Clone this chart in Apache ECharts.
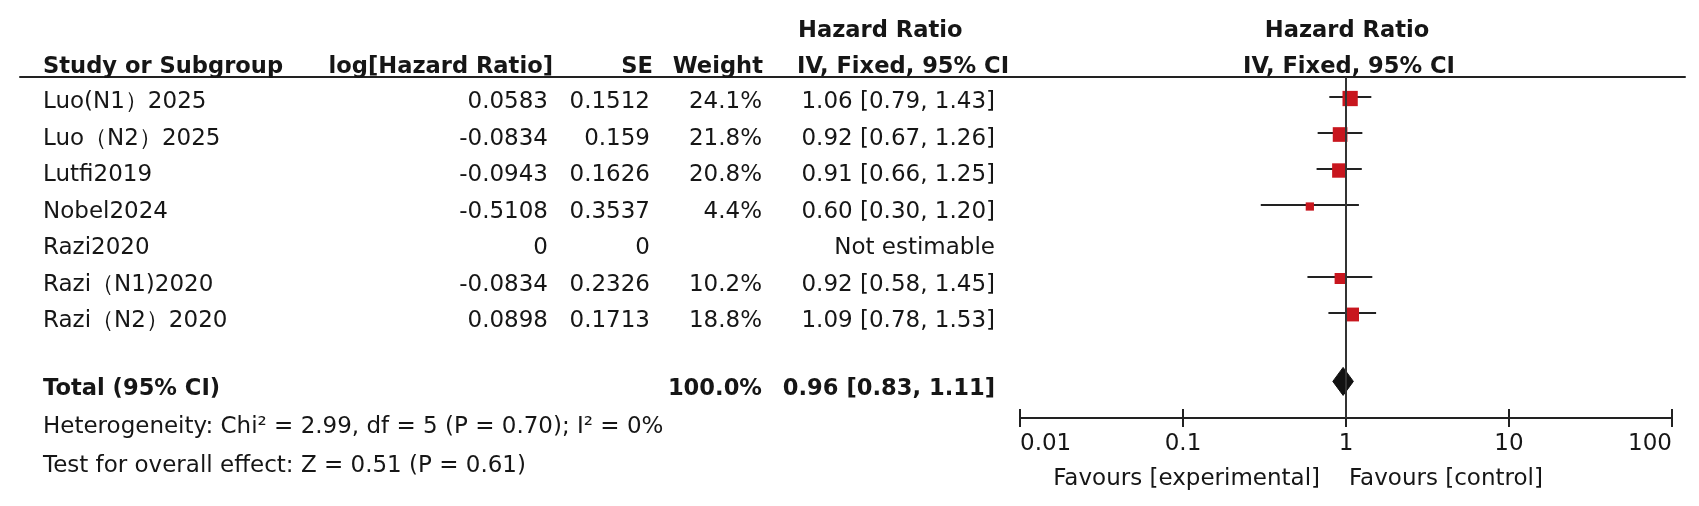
<!DOCTYPE html>
<html>
<head>
<meta charset="utf-8">
<script src="https://cdn.jsdelivr.net/npm/echarts@6/dist/echarts.min.js"></script>
<style>
html,body{margin:0;padding:0;background:#fff;}
#chart{width:1699px;height:506px;}
</style>
</head>
<body>
<div id="chart"></div>
<script>
// ---------------- DATA ----------------
const studies = ['Luo(N1）2025', 'Luo（N2）2025', 'Lutfi2019', 'Nobel2024', 'Razi2020', 'Razi（N1)2020', 'Razi（N2）2020'];
const logHR = ['0.0583', '-0.0834', '-0.0943', '-0.5108', '0', '-0.0834', '0.0898'];
const seValues = ['0.1512', '0.159', '0.1626', '0.3537', '0', '0.2326', '0.1713'];
const weights = [24.1, 21.8, 20.8, 4.4, null, 10.2, 18.8];
const hrValues = [1.06, 0.92, 0.91, 0.60, null, 0.92, 1.09];
const ciLow = [0.79, 0.67, 0.66, 0.30, null, 0.58, 0.78];
const ciHigh = [1.43, 1.26, 1.25, 1.20, null, 1.45, 1.53];
const totalHR = [0.96];
const totalLow = [0.83];
const totalHigh = [1.11];
const totalWeight = ['100.0%'];
const tickValues = [0.01, 0.1, 1, 10, 100];
const tickLabels = ['0.01', '0.1', '1', '10', '100'];
const hetText = ['Heterogeneity: Chi² = 2.99, df = 5 (P = 0.70); I² = 0%'];
const effectText = ['Test for overall effect: Z = 0.51 (P = 0.61)'];
const favourLabels = ['Favours [experimental]', 'Favours [control]'];

// ---------------- LAYOUT / STYLE ----------------
const FONT = 'DejaVu Sans';
const TXT = '#161616';
const FS = 23;
const FSB = 22.6;
const gridTop = 77, gridHeight = 341;
// forest rows
const yMin = -0.556, yMax = 8.917;
// table rows (text): row i centred at 102.5 + 36.5*i
const tMin = (77 - 102.5) / 36.5, tMax = (418 - 102.5) / 36.5;
const colStudy = 43, colLog = 548, colSE = 650, colW = 762, colHR = 995;
const hdrLog = 553, hdrSE = 653, hdrW = 763, hdrHR = 797;
const rightHdrX = 1347;
const rowTotalText = 7.86, rowHet = 8.89, rowTest = 9.97, rowH1 = -1.95, rowH2 = -0.97;
const rowTotalMark = 7.9;

const fmtCI = (h, l, u) => h.toFixed(2) + ' [' + l.toFixed(2) + ', ' + u.toFixed(2) + ']';

const cells = [];
function cell(x, row, text, align, bold) { cells.push({ x, row, text, align, bold }); }

studies.forEach((s, i) => {
  cell(colStudy, i, s, 'left', false);
  cell(colLog, i, logHR[i], 'right', false);
  cell(colSE, i, seValues[i], 'right', false);
  if (weights[i] != null) cell(colW, i, weights[i].toFixed(1) + '%', 'right', false);
  cell(colHR, i, hrValues[i] != null ? fmtCI(hrValues[i], ciLow[i], ciHigh[i]) : 'Not estimable', 'right', false);
});
cell(colStudy, rowHet, hetText[0], 'left', false);
cell(colStudy, rowTest, effectText[0], 'left', false);
cell(hdrHR + 1, rowH1, 'Hazard Ratio', 'left', true);
cell(colStudy, rowH2, 'Study or Subgroup', 'left', true);
cell(hdrHR, rowH2, 'IV, Fixed, 95% CI', 'left', true);
cell(colStudy, rowTotalText, 'Total (95% CI)', 'left', true);
cell(hdrLog, rowH2, 'log[Hazard Ratio]', 'right', true);
cell(hdrSE, rowH2, 'SE', 'right', true);
cell(hdrW, rowH2, 'Weight', 'right', true);
cell(colW, rowTotalText, totalWeight[0], 'right', true);
cell(colHR, rowTotalText, fmtCI(totalHR[0], totalLow[0], totalHigh[0]), 'right', true);
cell(rightHdrX, rowH1, 'Hazard Ratio', 'center', true);
cell(rightHdrX + 2, rowH2, 'IV, Fixed, 95% CI', 'center', true);

const studyData = [];
studies.forEach((s, i) => {
  if (hrValues[i] != null) studyData.push([hrValues[i], ciLow[i], ciHigh[i], i, weights[i]]);
});

const chart = echarts.init(document.getElementById('chart'), null, { renderer: 'canvas' });
chart.setOption({
  animation: false,
  backgroundColor: '#fff',
  grid: [
    { left: 20, right: 14, top: gridTop, height: gridHeight, containLabel: false, outerBoundsMode: 'none' },
    { left: 1020, right: 27, top: gridTop, height: gridHeight, containLabel: false, outerBoundsMode: 'none' }
  ],
  xAxis: [
    { gridIndex: 0, type: 'value', min: 20, max: 1685, position: 'top',
      axisLine: { show: true, onZero: false, lineStyle: { color: '#222', width: 2 } },
      axisTick: { show: false }, axisLabel: { show: false }, splitLine: { show: false } },
    { gridIndex: 1, type: 'log', logBase: 10, min: 0.01, max: 100, position: 'bottom',
      axisLine: { show: true, onZero: false, lineStyle: { color: '#222', width: 2 } },
      axisTick: { show: true, inside: true, length: 9, lineStyle: { color: '#222', width: 2 } },
      axisLabel: { show: false }, splitLine: { show: false }, minorTick: { show: false } },
    { gridIndex: 1, type: 'log', logBase: 10, min: 0.01, max: 100, position: 'bottom',
      axisLine: { show: true, onZero: false, lineStyle: { color: '#222', width: 2 } },
      axisTick: { show: true, inside: false, length: 9, lineStyle: { color: '#222', width: 2 } },
      axisLabel: { show: true, margin: 15, fontFamily: FONT, fontSize: FS, color: TXT,
        alignMinLabel: 'left', alignMaxLabel: 'right', hideOverlap: false,
        formatter: v => { const k = tickValues.findIndex(t => Math.abs(Math.log10(t) - Math.log10(v)) < 1e-6); return k >= 0 ? tickLabels[k] : ''; } },
      splitLine: { show: false }, minorTick: { show: false } }
  ],
  yAxis: [
    { gridIndex: 0, type: 'value', inverse: true, min: tMin, max: tMax, show: false },
    { gridIndex: 1, type: 'value', inverse: true, min: yMin, max: yMax, show: false }
  ],
  graphic: [
    { type: 'text', x: 1320, y: 479, silent: true,
      style: { text: favourLabels[0], fontFamily: FONT, fontSize: FS, fill: TXT, align: 'right', verticalAlign: 'middle' } },
    { type: 'text', x: 1349, y: 479, silent: true,
      style: { text: favourLabels[1], fontFamily: FONT, fontSize: FS, fill: TXT, align: 'left', verticalAlign: 'middle' } }
  ],
  series: [
    {
      type: 'custom', xAxisIndex: 0, yAxisIndex: 0, silent: true, clip: false,
      data: cells.map(c => [c.x, c.row]),
      renderItem: (params, api) => {
        const c = cells[params.dataIndex];
        const p = api.coord([api.value(0), api.value(1)]);
        return { type: 'text', x: p[0], y: p[1],
          style: { text: c.text, fill: TXT, align: c.align, verticalAlign: 'middle',
            font: (c.bold ? 'bold ' + FSB : FS) + 'px "' + FONT + '"' } };
      }
    },
    {
      type: 'custom', xAxisIndex: 1, yAxisIndex: 1, z: 2, silent: true,
      data: [[totalHR[0], totalLow[0], totalHigh[0], rowTotalMark]],
      encode: { x: [0, 1, 2], y: 3 },
      renderItem: (params, api) => {
        const c = api.coord([api.value(0), api.value(3)]);
        const l = api.coord([api.value(1), api.value(3)]);
        const r = api.coord([api.value(2), api.value(3)]);
        const hh = 14;
        return { type: 'polygon', shape: { points: [[l[0], c[1]], [c[0], c[1] - hh], [r[0], c[1]], [c[0], c[1] + hh]] },
          style: { fill: '#111', stroke: '#111', lineWidth: 1 } };
      },
      markLine: { silent: true, symbol: 'none', label: { show: false },
        lineStyle: { color: '#333', width: 2, type: 'solid' }, data: [{ xAxis: 1 }] }
    },
    {
      type: 'custom', xAxisIndex: 1, yAxisIndex: 1, z: 3, silent: true,
      data: studyData,
      encode: { x: [0, 1, 2], y: 3 },
      renderItem: (params, api) => {
        const row = api.value(3);
        const p = api.coord([api.value(0), row]);
        const pl = api.coord([api.value(1), row]);
        const ph = api.coord([api.value(2), row]);
        const s = 3 + 2.5 * Math.sqrt(api.value(4));
        return { type: 'group', children: [
          { type: 'line', shape: { x1: pl[0], y1: pl[1], x2: ph[0], y2: ph[1] }, style: { stroke: '#222', lineWidth: 2 } },
          { type: 'rect', shape: { x: p[0] - s / 2, y: p[1] - s / 2 + 1.5, width: s, height: s }, style: { fill: '#c8161e' } }
        ] };
      }
    }
  ]
});
</script>
</body>
</html>
